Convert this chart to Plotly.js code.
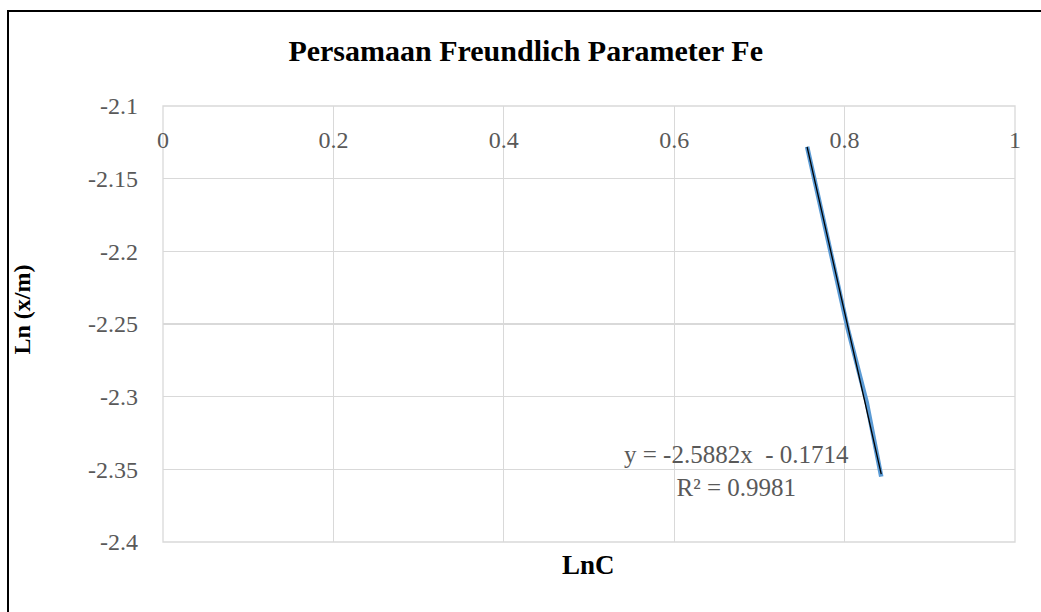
<!DOCTYPE html>
<html>
<head>
<meta charset="utf-8">
<script src="https://cdn.plot.ly/plotly-3.0.1.min.js"></script>
<style>
  html, body { margin: 0; padding: 0; background: #fff; }
  #chart { position: absolute; left: 0; top: 0; width: 1041px; height: 612px; }
  #frame { position: absolute; left: 7px; top: 10px; width: 1100px; height: 700px;
           border-left: 2px solid #000; border-top: 2px solid #000; pointer-events: none; }
</style>
</head>
<body>
<div id="chart"></div>
<div id="frame"></div>
<script>
// Data
const lnC   = [0.756, 0.804, 0.826, 0.843];
const lnXm  = [-2.128, -2.254, -2.304, -2.355];
const trendSlope = -2.5882;
const trendIntercept = -0.1714;
const rSquared = 0.9981;
const xTickVals = [0, 0.2, 0.4, 0.6, 0.8, 1];
const yTickVals = [-2.4, -2.35, -2.3, -2.25, -2.2, -2.15, -2.1];

const xMin = Math.min(...lnC), xMax = Math.max(...lnC);
const trendX = [xMin, xMax];
const trendY = trendX.map(x => trendSlope * x + trendIntercept);

const FONT = 'Liberation Serif, Times New Roman, serif';
const GREY = '#595959';
const GRID = '#d9d9d9';

const traces = [
  { x: lnC, y: lnXm, type: 'scatter', mode: 'lines',
    line: { color: '#5B9BD5', width: 4.5 }, name: 'Data' },
  { x: trendX, y: trendY, type: 'scatter', mode: 'lines',
    line: { color: '#000000', width: 1.3 }, name: 'Linear' }
];

const layout = {
  width: 1041, height: 612,
  margin: { l: 163, r: 26, t: 106, b: 70 },
  paper_bgcolor: '#ffffff', plot_bgcolor: '#ffffff',
  showlegend: false,
  font: { family: FONT, color: GREY, size: 25 },
  title: { text: '<b>Persamaan Freundlich Parameter Fe</b>',
           font: { family: FONT, size: 30, color: '#000000' },
           x: 0.505, xanchor: 'center', y: 0.917, yanchor: 'middle' },
  xaxis: {
    range: [0, 1], tickvals: xTickVals, ticktext: xTickVals.map(v => String(v)),
    anchor: 'free', position: 1, side: 'bottom',
    ticks: '', ticklabelstandoff: 17,
    showgrid: true, gridcolor: GRID, gridwidth: 1.3,
    showline: false, zeroline: false,
    tickfont: { family: FONT, size: 24, color: GREY }
  },
  yaxis: {
    domain: [0, 1],
    range: [-2.4, -2.1], tickvals: yTickVals, ticktext: yTickVals.map(v => String(v)),
    ticks: '', ticklabelstandoff: 24,
    showgrid: true, gridcolor: GRID, gridwidth: 1.3,
    showline: false, zeroline: false,
    tickfont: { family: FONT, size: 24, color: GREY }
  },
  shapes: [
    { type: 'rect', xref: 'paper', yref: 'paper', x0: 0, x1: 1, y0: 0, y1: 1,
      line: { color: GRID, width: 1.3 }, layer: 'below' }
  ],
  annotations: [
    { text: '<b>LnC</b>', xref: 'paper', yref: 'paper', x: 0.499, y: -0.053,
      xanchor: 'center', yanchor: 'middle', showarrow: false,
      font: { family: FONT, size: 27, color: '#000000' } },
    { text: '<b>Ln (x/m)</b>', xref: 'paper', yref: 'paper', x: -0.166, y: 0.532,
      xanchor: 'center', yanchor: 'middle', textangle: -90, showarrow: false,
      font: { family: FONT, size: 24, color: '#000000' } },
    { text: 'y = -2.5882x  - 0.1714<br>R² = ' + rSquared, xref: 'paper', yref: 'paper',
      x: (736 - 163) / 852, y: (542 - 471) / 436,
      xanchor: 'center', yanchor: 'middle', align: 'center', showarrow: false,
      font: { family: FONT, size: 25, color: GREY } }
  ]
};

Plotly.newPlot('chart', traces, layout, { displayModeBar: false, staticPlot: true });
</script>
</body>
</html>
